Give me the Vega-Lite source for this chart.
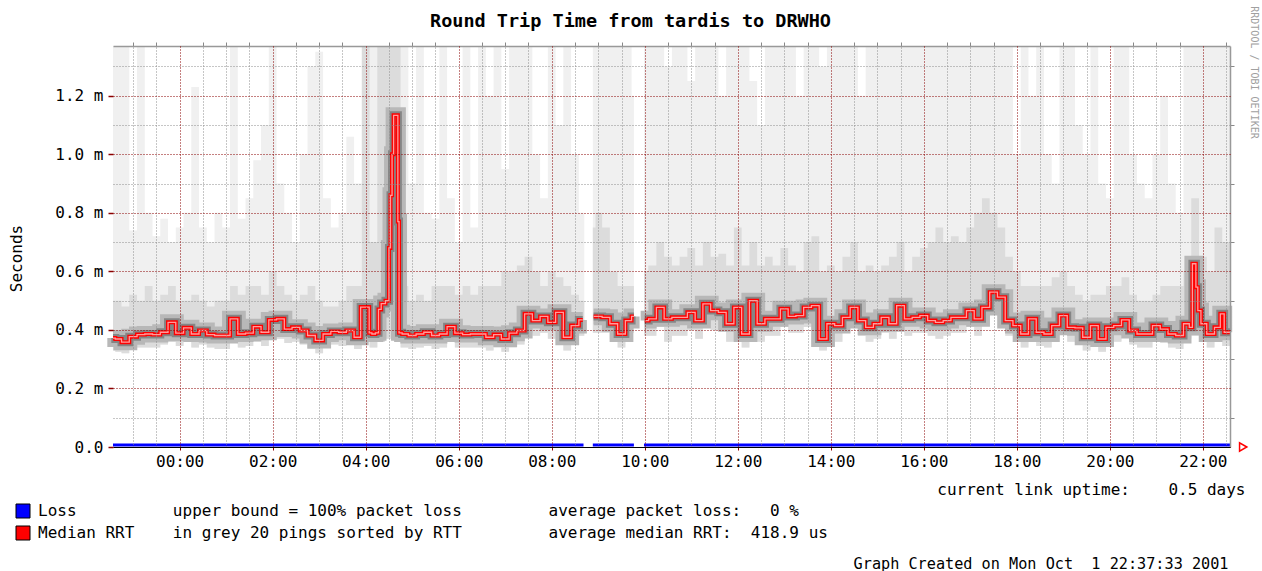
{
  "$schema": "https://vega.github.io/schema/vega-lite/v6.json",
  "autosize": {"type": "none"},
  "padding": {"left": 113, "top": 46, "right": 32, "bottom": 124},
  "width": 1117,
  "height": 401,
  "background": "#ffffff",
  "title": {"text": "Round Trip Time from tardis to DRWHO", "font": "DejaVu Sans Mono", "fontSize": 18.5, "fontWeight": "bold", "anchor": "middle", "frame": "group", "dx": -41, "offset": -25, "color": "#000000"},
  "datasets": {
    "smoke": [
      {"t":"2001-09-30T22:34:00Z","s":"A","lo":0.33,"m":0.50,"p":1.37},
      {"t":"2001-09-30T22:40:00Z","s":"A","lo":0.325,"m":0.50,"p":1.37},
      {"t":"2001-09-30T22:50:00Z","s":"A","lo":0.32,"m":0.48,"p":1.37},
      {"t":"2001-09-30T23:00:00Z","s":"A","lo":0.335,"m":0.52,"p":0.74},
      {"t":"2001-09-30T23:10:00Z","s":"A","lo":0.34,"m":0.50,"p":1.37},
      {"t":"2001-09-30T23:20:00Z","s":"A","lo":0.34,"m":0.55,"p":0.80},
      {"t":"2001-09-30T23:30:00Z","s":"A","lo":0.34,"m":0.50,"p":0.72},
      {"t":"2001-09-30T23:40:00Z","s":"A","lo":0.35,"m":0.52,"p":0.78},
      {"t":"2001-09-30T23:50:00Z","s":"A","lo":0.36,"m":0.55,"p":0.70},
      {"t":"2001-10-01T00:00:00Z","s":"A","lo":0.345,"m":0.50,"p":0.75},
      {"t":"2001-10-01T00:10:00Z","s":"A","lo":0.36,"m":0.50,"p":0.80},
      {"t":"2001-10-01T00:20:00Z","s":"A","lo":0.34,"m":0.52,"p":1.23},
      {"t":"2001-10-01T00:30:00Z","s":"A","lo":0.35,"m":0.50,"p":0.75},
      {"t":"2001-10-01T00:40:00Z","s":"A","lo":0.34,"m":0.48,"p":0.70},
      {"t":"2001-10-01T00:50:00Z","s":"A","lo":0.335,"m":0.50,"p":0.80},
      {"t":"2001-10-01T01:00:00Z","s":"A","lo":0.335,"m":0.50,"p":0.75},
      {"t":"2001-10-01T01:10:00Z","s":"A","lo":0.37,"m":0.55,"p":1.37},
      {"t":"2001-10-01T01:20:00Z","s":"A","lo":0.34,"m":0.52,"p":0.78},
      {"t":"2001-10-01T01:30:00Z","s":"A","lo":0.345,"m":0.55,"p":0.85},
      {"t":"2001-10-01T01:40:00Z","s":"A","lo":0.36,"m":0.55,"p":0.98},
      {"t":"2001-10-01T01:50:00Z","s":"A","lo":0.345,"m":0.52,"p":1.10},
      {"t":"2001-10-01T02:00:00Z","s":"A","lo":0.37,"m":0.60,"p":1.37},
      {"t":"2001-10-01T02:10:00Z","s":"A","lo":0.37,"m":0.55,"p":0.90},
      {"t":"2001-10-01T02:20:00Z","s":"A","lo":0.355,"m":0.52,"p":0.80},
      {"t":"2001-10-01T02:30:00Z","s":"A","lo":0.36,"m":0.50,"p":0.70},
      {"t":"2001-10-01T02:40:00Z","s":"A","lo":0.35,"m":0.52,"p":1.00},
      {"t":"2001-10-01T02:50:00Z","s":"A","lo":0.335,"m":0.55,"p":1.30},
      {"t":"2001-10-01T03:00:00Z","s":"A","lo":0.32,"m":0.50,"p":1.35},
      {"t":"2001-10-01T03:10:00Z","s":"A","lo":0.34,"m":0.48,"p":0.85},
      {"t":"2001-10-01T03:20:00Z","s":"A","lo":0.35,"m":0.48,"p":0.75},
      {"t":"2001-10-01T03:30:00Z","s":"A","lo":0.345,"m":0.50,"p":0.80},
      {"t":"2001-10-01T03:40:00Z","s":"A","lo":0.35,"m":0.55,"p":1.06},
      {"t":"2001-10-01T03:50:00Z","s":"A","lo":0.335,"m":0.55,"p":0.90},
      {"t":"2001-10-01T04:00:00Z","s":"A","lo":0.36,"m":1.37,"p":1.37},
      {"t":"2001-10-01T04:10:00Z","s":"A","lo":0.34,"m":0.70,"p":1.37},
      {"t":"2001-10-01T04:20:00Z","s":"A","lo":0.36,"m":1.37,"p":1.37},
      {"t":"2001-10-01T04:30:00Z","s":"A","lo":0.37,"m":1.37,"p":1.37},
      {"t":"2001-10-01T04:40:00Z","s":"A","lo":0.38,"m":1.37,"p":1.37},
      {"t":"2001-10-01T04:50:00Z","s":"A","lo":0.34,"m":0.55,"p":1.37},
      {"t":"2001-10-01T05:00:00Z","s":"A","lo":0.335,"m":0.50,"p":0.90},
      {"t":"2001-10-01T05:10:00Z","s":"A","lo":0.34,"m":0.52,"p":1.37},
      {"t":"2001-10-01T05:20:00Z","s":"A","lo":0.345,"m":0.50,"p":0.80},
      {"t":"2001-10-01T05:30:00Z","s":"A","lo":0.335,"m":0.55,"p":0.78},
      {"t":"2001-10-01T05:40:00Z","s":"A","lo":0.34,"m":0.55,"p":1.37},
      {"t":"2001-10-01T05:50:00Z","s":"A","lo":0.36,"m":0.55,"p":0.85},
      {"t":"2001-10-01T06:00:00Z","s":"A","lo":0.34,"m":0.52,"p":0.70},
      {"t":"2001-10-01T06:10:00Z","s":"A","lo":0.34,"m":0.55,"p":1.37},
      {"t":"2001-10-01T06:20:00Z","s":"A","lo":0.34,"m":0.52,"p":0.75},
      {"t":"2001-10-01T06:30:00Z","s":"A","lo":0.34,"m":0.55,"p":1.37},
      {"t":"2001-10-01T06:40:00Z","s":"A","lo":0.33,"m":0.55,"p":1.20},
      {"t":"2001-10-01T06:50:00Z","s":"A","lo":0.34,"m":0.55,"p":1.37},
      {"t":"2001-10-01T07:00:00Z","s":"A","lo":0.325,"m":0.60,"p":0.95},
      {"t":"2001-10-01T07:10:00Z","s":"A","lo":0.34,"m":0.60,"p":1.37},
      {"t":"2001-10-01T07:20:00Z","s":"A","lo":0.35,"m":0.62,"p":1.37},
      {"t":"2001-10-01T07:30:00Z","s":"A","lo":0.39,"m":0.65,"p":1.37},
      {"t":"2001-10-01T07:40:00Z","s":"A","lo":0.38,"m":0.60,"p":1.00},
      {"t":"2001-10-01T07:50:00Z","s":"A","lo":0.39,"m":0.55,"p":0.85},
      {"t":"2001-10-01T08:00:00Z","s":"A","lo":0.37,"m":0.60,"p":1.37},
      {"t":"2001-10-01T08:10:00Z","s":"A","lo":0.40,"m":0.58,"p":1.10},
      {"t":"2001-10-01T08:20:00Z","s":"A","lo":0.33,"m":0.55,"p":1.37},
      {"t":"2001-10-01T08:30:00Z","s":"A","lo":0.36,"m":0.52,"p":1.00},
      {"t":"2001-10-01T08:40:00Z","s":"A","lo":0.38,"m":0.50,"p":0.80},
      {"t":"2001-10-01T08:42:00Z","s":"A","lo":0.38,"m":0.50,"p":0.80},
      {"t":"2001-10-01T08:53:00Z","s":"B","lo":0.39,"m":0.75,"p":1.37},
      {"t":"2001-10-01T09:00:00Z","s":"B","lo":0.39,"m":0.80,"p":1.37},
      {"t":"2001-10-01T09:10:00Z","s":"B","lo":0.39,"m":0.75,"p":1.37},
      {"t":"2001-10-01T09:20:00Z","s":"B","lo":0.37,"m":0.60,"p":1.37},
      {"t":"2001-10-01T09:30:00Z","s":"B","lo":0.34,"m":0.55,"p":1.37},
      {"t":"2001-10-01T09:40:00Z","s":"B","lo":0.38,"m":0.55,"p":1.37},
      {"t":"2001-10-01T09:46:00Z","s":"B","lo":0.39,"m":0.55,"p":1.20},
      {"t":"2001-10-01T09:59:00Z","s":"C","lo":0.38,"m":0.60,"p":1.37},
      {"t":"2001-10-01T10:10:00Z","s":"C","lo":0.38,"m":0.62,"p":1.37},
      {"t":"2001-10-01T10:20:00Z","s":"C","lo":0.41,"m":0.70,"p":1.37},
      {"t":"2001-10-01T10:30:00Z","s":"C","lo":0.36,"m":0.65,"p":1.30},
      {"t":"2001-10-01T10:40:00Z","s":"C","lo":0.38,"m":0.62,"p":1.37},
      {"t":"2001-10-01T10:50:00Z","s":"C","lo":0.38,"m":0.65,"p":1.37},
      {"t":"2001-10-01T11:00:00Z","s":"C","lo":0.40,"m":0.68,"p":1.25},
      {"t":"2001-10-01T11:10:00Z","s":"C","lo":0.37,"m":0.62,"p":1.37},
      {"t":"2001-10-01T11:20:00Z","s":"C","lo":0.42,"m":0.70,"p":1.37},
      {"t":"2001-10-01T11:30:00Z","s":"C","lo":0.40,"m":0.65,"p":1.37},
      {"t":"2001-10-01T11:40:00Z","s":"C","lo":0.40,"m":0.66,"p":1.20},
      {"t":"2001-10-01T11:50:00Z","s":"C","lo":0.36,"m":0.62,"p":1.37},
      {"t":"2001-10-01T12:00:00Z","s":"C","lo":0.41,"m":0.75,"p":1.37},
      {"t":"2001-10-01T12:10:00Z","s":"C","lo":0.34,"m":0.62,"p":1.37},
      {"t":"2001-10-01T12:20:00Z","s":"C","lo":0.43,"m":0.70,"p":1.25},
      {"t":"2001-10-01T12:30:00Z","s":"C","lo":0.36,"m":0.62,"p":1.10},
      {"t":"2001-10-01T12:40:00Z","s":"C","lo":0.38,"m":0.65,"p":1.37},
      {"t":"2001-10-01T12:50:00Z","s":"C","lo":0.38,"m":0.62,"p":1.37},
      {"t":"2001-10-01T13:00:00Z","s":"C","lo":0.41,"m":0.68,"p":1.37},
      {"t":"2001-10-01T13:10:00Z","s":"C","lo":0.39,"m":0.62,"p":1.37},
      {"t":"2001-10-01T13:20:00Z","s":"C","lo":0.39,"m":0.60,"p":1.20},
      {"t":"2001-10-01T13:30:00Z","s":"C","lo":0.41,"m":0.70,"p":1.37},
      {"t":"2001-10-01T13:40:00Z","s":"C","lo":0.42,"m":0.72,"p":1.37},
      {"t":"2001-10-01T13:50:00Z","s":"C","lo":0.33,"m":0.60,"p":1.30},
      {"t":"2001-10-01T14:00:00Z","s":"C","lo":0.37,"m":0.62,"p":1.37},
      {"t":"2001-10-01T14:10:00Z","s":"C","lo":0.36,"m":0.60,"p":1.37},
      {"t":"2001-10-01T14:20:00Z","s":"C","lo":0.39,"m":0.65,"p":1.37},
      {"t":"2001-10-01T14:30:00Z","s":"C","lo":0.41,"m":0.70,"p":1.37},
      {"t":"2001-10-01T14:40:00Z","s":"C","lo":0.38,"m":0.60,"p":1.20},
      {"t":"2001-10-01T14:50:00Z","s":"C","lo":0.36,"m":0.62,"p":1.37},
      {"t":"2001-10-01T15:00:00Z","s":"C","lo":0.37,"m":0.60,"p":1.37},
      {"t":"2001-10-01T15:10:00Z","s":"C","lo":0.39,"m":0.62,"p":1.37},
      {"t":"2001-10-01T15:20:00Z","s":"C","lo":0.37,"m":0.65,"p":1.37},
      {"t":"2001-10-01T15:30:00Z","s":"C","lo":0.42,"m":0.70,"p":1.37},
      {"t":"2001-10-01T15:40:00Z","s":"C","lo":0.38,"m":0.60,"p":1.37},
      {"t":"2001-10-01T15:50:00Z","s":"C","lo":0.39,"m":0.65,"p":1.37},
      {"t":"2001-10-01T16:00:00Z","s":"C","lo":0.39,"m":0.68,"p":1.37},
      {"t":"2001-10-01T16:10:00Z","s":"C","lo":0.38,"m":0.70,"p":1.37},
      {"t":"2001-10-01T16:20:00Z","s":"C","lo":0.37,"m":0.75,"p":1.37},
      {"t":"2001-10-01T16:30:00Z","s":"C","lo":0.38,"m":0.70,"p":1.37},
      {"t":"2001-10-01T16:40:00Z","s":"C","lo":0.39,"m":0.72,"p":1.37},
      {"t":"2001-10-01T16:50:00Z","s":"C","lo":0.39,"m":0.70,"p":1.37},
      {"t":"2001-10-01T17:00:00Z","s":"C","lo":0.41,"m":0.75,"p":1.37},
      {"t":"2001-10-01T17:10:00Z","s":"C","lo":0.38,"m":0.80,"p":1.37},
      {"t":"2001-10-01T17:20:00Z","s":"C","lo":0.42,"m":0.85,"p":1.37},
      {"t":"2001-10-01T17:30:00Z","s":"C","lo":0.46,"m":0.80,"p":1.37},
      {"t":"2001-10-01T17:40:00Z","s":"C","lo":0.45,"m":0.75,"p":1.37},
      {"t":"2001-10-01T17:50:00Z","s":"C","lo":0.38,"m":0.65,"p":1.37},
      {"t":"2001-10-01T18:00:00Z","s":"C","lo":0.36,"m":0.60,"p":1.00},
      {"t":"2001-10-01T18:10:00Z","s":"C","lo":0.34,"m":0.55,"p":1.37},
      {"t":"2001-10-01T18:20:00Z","s":"C","lo":0.38,"m":0.55,"p":1.20},
      {"t":"2001-10-01T18:30:00Z","s":"C","lo":0.345,"m":0.55,"p":1.37},
      {"t":"2001-10-01T18:40:00Z","s":"C","lo":0.34,"m":0.55,"p":1.00},
      {"t":"2001-10-01T18:50:00Z","s":"C","lo":0.36,"m":0.58,"p":0.90},
      {"t":"2001-10-01T19:00:00Z","s":"C","lo":0.39,"m":0.60,"p":1.37},
      {"t":"2001-10-01T19:10:00Z","s":"C","lo":0.36,"m":0.55,"p":1.37},
      {"t":"2001-10-01T19:20:00Z","s":"C","lo":0.36,"m":0.52,"p":1.10},
      {"t":"2001-10-01T19:30:00Z","s":"C","lo":0.33,"m":0.50,"p":1.00},
      {"t":"2001-10-01T19:40:00Z","s":"C","lo":0.36,"m":0.52,"p":1.37},
      {"t":"2001-10-01T19:50:00Z","s":"C","lo":0.325,"m":0.52,"p":0.90},
      {"t":"2001-10-01T20:00:00Z","s":"C","lo":0.36,"m":0.55,"p":0.85},
      {"t":"2001-10-01T20:10:00Z","s":"C","lo":0.36,"m":0.55,"p":1.37},
      {"t":"2001-10-01T20:20:00Z","s":"C","lo":0.38,"m":0.58,"p":1.37},
      {"t":"2001-10-01T20:30:00Z","s":"C","lo":0.35,"m":0.52,"p":1.00},
      {"t":"2001-10-01T20:40:00Z","s":"C","lo":0.34,"m":0.50,"p":0.90},
      {"t":"2001-10-01T20:50:00Z","s":"C","lo":0.34,"m":0.50,"p":0.85},
      {"t":"2001-10-01T21:00:00Z","s":"C","lo":0.36,"m":0.52,"p":1.00},
      {"t":"2001-10-01T21:10:00Z","s":"C","lo":0.355,"m":0.55,"p":1.20},
      {"t":"2001-10-01T21:20:00Z","s":"C","lo":0.34,"m":0.55,"p":0.90},
      {"t":"2001-10-01T21:30:00Z","s":"C","lo":0.335,"m":0.55,"p":0.80},
      {"t":"2001-10-01T21:40:00Z","s":"C","lo":0.37,"m":0.60,"p":1.37},
      {"t":"2001-10-01T21:50:00Z","s":"C","lo":0.38,"m":0.85,"p":1.37},
      {"t":"2001-10-01T22:00:00Z","s":"C","lo":0.37,"m":0.65,"p":1.37},
      {"t":"2001-10-01T22:10:00Z","s":"C","lo":0.34,"m":0.60,"p":1.37},
      {"t":"2001-10-01T22:20:00Z","s":"C","lo":0.36,"m":0.75,"p":1.37},
      {"t":"2001-10-01T22:30:00Z","s":"C","lo":0.345,"m":0.70,"p":1.37},
      {"t":"2001-10-01T22:35:00Z","s":"C","lo":0.345,"m":0.70,"p":1.37}
    ],
    "median": [
      {"t":"2001-09-30T22:34:00Z","s":"A","med":0.372},
      {"t":"2001-09-30T22:40:00Z","s":"A","med":0.369},
      {"t":"2001-09-30T22:50:00Z","s":"A","med":0.358},
      {"t":"2001-09-30T23:00:00Z","s":"A","med":0.377},
      {"t":"2001-09-30T23:10:00Z","s":"A","med":0.384},
      {"t":"2001-09-30T23:20:00Z","s":"A","med":0.386},
      {"t":"2001-09-30T23:30:00Z","s":"A","med":0.384},
      {"t":"2001-09-30T23:40:00Z","s":"A","med":0.392},
      {"t":"2001-09-30T23:50:00Z","s":"A","med":0.426},
      {"t":"2001-10-01T00:00:00Z","s":"A","med":0.389},
      {"t":"2001-10-01T00:10:00Z","s":"A","med":0.407},
      {"t":"2001-10-01T00:20:00Z","s":"A","med":0.386},
      {"t":"2001-10-01T00:30:00Z","s":"A","med":0.398},
      {"t":"2001-10-01T00:40:00Z","s":"A","med":0.384},
      {"t":"2001-10-01T00:50:00Z","s":"A","med":0.381},
      {"t":"2001-10-01T01:00:00Z","s":"A","med":0.381},
      {"t":"2001-10-01T01:10:00Z","s":"A","med":0.438},
      {"t":"2001-10-01T01:20:00Z","s":"A","med":0.386},
      {"t":"2001-10-01T01:30:00Z","s":"A","med":0.389},
      {"t":"2001-10-01T01:40:00Z","s":"A","med":0.411},
      {"t":"2001-10-01T01:50:00Z","s":"A","med":0.392},
      {"t":"2001-10-01T02:00:00Z","s":"A","med":0.434},
      {"t":"2001-10-01T02:10:00Z","s":"A","med":0.438},
      {"t":"2001-10-01T02:20:00Z","s":"A","med":0.403},
      {"t":"2001-10-01T02:30:00Z","s":"A","med":0.409},
      {"t":"2001-10-01T02:40:00Z","s":"A","med":0.398},
      {"t":"2001-10-01T02:50:00Z","s":"A","med":0.381},
      {"t":"2001-10-01T03:00:00Z","s":"A","med":0.364},
      {"t":"2001-10-01T03:10:00Z","s":"A","med":0.386},
      {"t":"2001-10-01T03:20:00Z","s":"A","med":0.395},
      {"t":"2001-10-01T03:30:00Z","s":"A","med":0.392},
      {"t":"2001-10-01T03:40:00Z","s":"A","med":0.398},
      {"t":"2001-10-01T03:50:00Z","s":"A","med":0.375},
      {"t":"2001-10-01T03:57:00Z","s":"A","med":0.478},
      {"t":"2001-10-01T04:03:00Z","s":"A","med":0.478},
      {"t":"2001-10-01T04:06:00Z","s":"A","med":0.39},
      {"t":"2001-10-01T04:10:00Z","s":"A","med":0.386},
      {"t":"2001-10-01T04:15:00Z","s":"A","med":0.39},
      {"t":"2001-10-01T04:18:00Z","s":"A","med":0.47},
      {"t":"2001-10-01T04:22:00Z","s":"A","med":0.49},
      {"t":"2001-10-01T04:29:00Z","s":"A","med":0.50},
      {"t":"2001-10-01T04:31:00Z","s":"A","med":0.68},
      {"t":"2001-10-01T04:33:00Z","s":"A","med":0.86},
      {"t":"2001-10-01T04:35:00Z","s":"A","med":1.00},
      {"t":"2001-10-01T04:37:00Z","s":"A","med":1.133},
      {"t":"2001-10-01T04:41:00Z","s":"A","med":1.133},
      {"t":"2001-10-01T04:42:00Z","s":"A","med":0.77},
      {"t":"2001-10-01T04:44:00Z","s":"A","med":0.39},
      {"t":"2001-10-01T04:50:00Z","s":"A","med":0.386},
      {"t":"2001-10-01T05:00:00Z","s":"A","med":0.381},
      {"t":"2001-10-01T05:10:00Z","s":"A","med":0.386},
      {"t":"2001-10-01T05:20:00Z","s":"A","med":0.392},
      {"t":"2001-10-01T05:30:00Z","s":"A","med":0.381},
      {"t":"2001-10-01T05:40:00Z","s":"A","med":0.386},
      {"t":"2001-10-01T05:50:00Z","s":"A","med":0.411},
      {"t":"2001-10-01T06:00:00Z","s":"A","med":0.389},
      {"t":"2001-10-01T06:10:00Z","s":"A","med":0.384},
      {"t":"2001-10-01T06:20:00Z","s":"A","med":0.386},
      {"t":"2001-10-01T06:30:00Z","s":"A","med":0.386},
      {"t":"2001-10-01T06:40:00Z","s":"A","med":0.375},
      {"t":"2001-10-01T06:50:00Z","s":"A","med":0.384},
      {"t":"2001-10-01T07:00:00Z","s":"A","med":0.369},
      {"t":"2001-10-01T07:10:00Z","s":"A","med":0.389},
      {"t":"2001-10-01T07:20:00Z","s":"A","med":0.398},
      {"t":"2001-10-01T07:30:00Z","s":"A","med":0.455},
      {"t":"2001-10-01T07:40:00Z","s":"A","med":0.432},
      {"t":"2001-10-01T07:50:00Z","s":"A","med":0.446},
      {"t":"2001-10-01T08:00:00Z","s":"A","med":0.426},
      {"t":"2001-10-01T08:10:00Z","s":"A","med":0.46},
      {"t":"2001-10-01T08:20:00Z","s":"A","med":0.375},
      {"t":"2001-10-01T08:30:00Z","s":"A","med":0.415},
      {"t":"2001-10-01T08:40:00Z","s":"A","med":0.434},
      {"t":"2001-10-01T08:54:00Z","s":"B","med":0.446},
      {"t":"2001-10-01T09:00:00Z","s":"B","med":0.446},
      {"t":"2001-10-01T09:10:00Z","s":"B","med":0.443},
      {"t":"2001-10-01T09:20:00Z","s":"B","med":0.421},
      {"t":"2001-10-01T09:30:00Z","s":"B","med":0.386},
      {"t":"2001-10-01T09:40:00Z","s":"B","med":0.432},
      {"t":"2001-10-01T09:46:00Z","s":"B","med":0.446},
      {"t":"2001-10-01T10:00:00Z","s":"C","med":0.432},
      {"t":"2001-10-01T10:10:00Z","s":"C","med":0.438},
      {"t":"2001-10-01T10:20:00Z","s":"C","med":0.477},
      {"t":"2001-10-01T10:30:00Z","s":"C","med":0.438},
      {"t":"2001-10-01T10:40:00Z","s":"C","med":0.443},
      {"t":"2001-10-01T10:50:00Z","s":"C","med":0.443},
      {"t":"2001-10-01T11:00:00Z","s":"C","med":0.46},
      {"t":"2001-10-01T11:10:00Z","s":"C","med":0.432},
      {"t":"2001-10-01T11:20:00Z","s":"C","med":0.489},
      {"t":"2001-10-01T11:30:00Z","s":"C","med":0.466},
      {"t":"2001-10-01T11:40:00Z","s":"C","med":0.46},
      {"t":"2001-10-01T11:50:00Z","s":"C","med":0.421},
      {"t":"2001-10-01T12:00:00Z","s":"C","med":0.477},
      {"t":"2001-10-01T12:10:00Z","s":"C","med":0.386},
      {"t":"2001-10-01T12:20:00Z","s":"C","med":0.50},
      {"t":"2001-10-01T12:30:00Z","s":"C","med":0.421},
      {"t":"2001-10-01T12:40:00Z","s":"C","med":0.438},
      {"t":"2001-10-01T12:50:00Z","s":"C","med":0.438},
      {"t":"2001-10-01T13:00:00Z","s":"C","med":0.472},
      {"t":"2001-10-01T13:10:00Z","s":"C","med":0.446},
      {"t":"2001-10-01T13:20:00Z","s":"C","med":0.449},
      {"t":"2001-10-01T13:30:00Z","s":"C","med":0.477},
      {"t":"2001-10-01T13:40:00Z","s":"C","med":0.483},
      {"t":"2001-10-01T13:50:00Z","s":"C","med":0.369},
      {"t":"2001-10-01T14:00:00Z","s":"C","med":0.421},
      {"t":"2001-10-01T14:10:00Z","s":"C","med":0.415},
      {"t":"2001-10-01T14:20:00Z","s":"C","med":0.443},
      {"t":"2001-10-01T14:30:00Z","s":"C","med":0.477},
      {"t":"2001-10-01T14:40:00Z","s":"C","med":0.432},
      {"t":"2001-10-01T14:50:00Z","s":"C","med":0.409},
      {"t":"2001-10-01T15:00:00Z","s":"C","med":0.421},
      {"t":"2001-10-01T15:10:00Z","s":"C","med":0.443},
      {"t":"2001-10-01T15:20:00Z","s":"C","med":0.421},
      {"t":"2001-10-01T15:30:00Z","s":"C","med":0.483},
      {"t":"2001-10-01T15:40:00Z","s":"C","med":0.438},
      {"t":"2001-10-01T15:50:00Z","s":"C","med":0.443},
      {"t":"2001-10-01T16:00:00Z","s":"C","med":0.449},
      {"t":"2001-10-01T16:10:00Z","s":"C","med":0.432},
      {"t":"2001-10-01T16:20:00Z","s":"C","med":0.426},
      {"t":"2001-10-01T16:30:00Z","s":"C","med":0.432},
      {"t":"2001-10-01T16:40:00Z","s":"C","med":0.443},
      {"t":"2001-10-01T16:50:00Z","s":"C","med":0.443},
      {"t":"2001-10-01T17:00:00Z","s":"C","med":0.466},
      {"t":"2001-10-01T17:10:00Z","s":"C","med":0.438},
      {"t":"2001-10-01T17:20:00Z","s":"C","med":0.477},
      {"t":"2001-10-01T17:30:00Z","s":"C","med":0.529},
      {"t":"2001-10-01T17:40:00Z","s":"C","med":0.512},
      {"t":"2001-10-01T17:50:00Z","s":"C","med":0.432},
      {"t":"2001-10-01T18:00:00Z","s":"C","med":0.415},
      {"t":"2001-10-01T18:10:00Z","s":"C","med":0.386},
      {"t":"2001-10-01T18:20:00Z","s":"C","med":0.438},
      {"t":"2001-10-01T18:30:00Z","s":"C","med":0.392},
      {"t":"2001-10-01T18:40:00Z","s":"C","med":0.386},
      {"t":"2001-10-01T18:50:00Z","s":"C","med":0.415},
      {"t":"2001-10-01T19:00:00Z","s":"C","med":0.449},
      {"t":"2001-10-01T19:10:00Z","s":"C","med":0.409},
      {"t":"2001-10-01T19:20:00Z","s":"C","med":0.407},
      {"t":"2001-10-01T19:30:00Z","s":"C","med":0.375},
      {"t":"2001-10-01T19:40:00Z","s":"C","med":0.415},
      {"t":"2001-10-01T19:50:00Z","s":"C","med":0.369},
      {"t":"2001-10-01T20:00:00Z","s":"C","med":0.409},
      {"t":"2001-10-01T20:10:00Z","s":"C","med":0.415},
      {"t":"2001-10-01T20:20:00Z","s":"C","med":0.434},
      {"t":"2001-10-01T20:30:00Z","s":"C","med":0.398},
      {"t":"2001-10-01T20:40:00Z","s":"C","med":0.386},
      {"t":"2001-10-01T20:50:00Z","s":"C","med":0.386},
      {"t":"2001-10-01T21:00:00Z","s":"C","med":0.415},
      {"t":"2001-10-01T21:10:00Z","s":"C","med":0.403},
      {"t":"2001-10-01T21:20:00Z","s":"C","med":0.386},
      {"t":"2001-10-01T21:30:00Z","s":"C","med":0.381},
      {"t":"2001-10-01T21:40:00Z","s":"C","med":0.421},
      {"t":"2001-10-01T21:45:00Z","s":"C","med":0.409},
      {"t":"2001-10-01T21:48:00Z","s":"C","med":0.626},
      {"t":"2001-10-01T21:50:00Z","s":"C","med":0.626},
      {"t":"2001-10-01T21:52:00Z","s":"C","med":0.546},
      {"t":"2001-10-01T21:55:00Z","s":"C","med":0.466},
      {"t":"2001-10-01T22:00:00Z","s":"C","med":0.421},
      {"t":"2001-10-01T22:10:00Z","s":"C","med":0.386},
      {"t":"2001-10-01T22:20:00Z","s":"C","med":0.409},
      {"t":"2001-10-01T22:25:00Z","s":"C","med":0.455},
      {"t":"2001-10-01T22:30:00Z","s":"C","med":0.392},
      {"t":"2001-10-01T22:35:00Z","s":"C","med":0.392}
    ],
    "loss": [
      {"t":"2001-09-30T22:34:00Z","s":"A","loss":0},
      {"t":"2001-10-01T08:41:00Z","s":"A","loss":0},
      {"t":"2001-10-01T08:53:00Z","s":"B","loss":0},
      {"t":"2001-10-01T09:46:00Z","s":"B","loss":0},
      {"t":"2001-10-01T09:59:00Z","s":"C","loss":0},
      {"t":"2001-10-01T22:35:00Z","s":"C","loss":0}
    ],
    "keys": [
      {"key":"Loss"},
      {"key":"Median RRT"}
    ],
    "arrow": [
      {"t":"2001-10-01T22:52:00Z","v":0}
    ]
  },
  "resolve": {"axis": {"x": "independent", "y": "independent"}},
  "layer": [
    {
      "data": {"name": "smoke"},
      "mark": {"type": "area", "interpolate": "step", "color": "#f0f0f0"},
      "encoding": {
        "x": {"field": "t", "type": "temporal",
          "scale": {"type": "utc", "domain": [1001889240000, 1001975700000]},
          "axis": {"orient": "top", "values": [1001890800000, 1001892600000, 1001896200000, 1001898000000, 1001899800000, 1001903400000, 1001905200000, 1001907000000, 1001910600000, 1001912400000, 1001914200000, 1001917800000, 1001919600000, 1001921400000, 1001925000000, 1001926800000, 1001928600000, 1001932200000, 1001934000000, 1001935800000, 1001939400000, 1001941200000, 1001943000000, 1001946600000, 1001948400000, 1001950200000, 1001953800000, 1001955600000, 1001957400000, 1001961000000, 1001962800000, 1001964600000, 1001968200000, 1001970000000, 1001971800000, 1001975400000],
            "labels": false, "grid": true, "gridColor": "#8c8c8c", "gridDash": [1, 2], "gridWidth": 1, "ticks": true, "tickColor": "#888888", "tickSize": 4, "domain": true, "domainColor": "#999999", "domainWidth": 1.5, "zindex": 1,
            "title": "Graph Created on Mon Oct\u00a0\u00a01 22:37:33 2001", "titleFontSize": 15.2, "titleX": 1115, "titleY": 517, "titleAlign": "right", "titleBaseline": "middle"}},
        "y": {"field": "lo", "type": "quantitative",
          "scale": {"domain": [0, 1.37], "nice": false, "zero": false},
          "axis": {"orient": "right", "values": [0.1, 0.3, 0.5, 0.7, 0.9, 1.1, 1.3], "labels": false, "grid": true, "gridColor": "#8c8c8c", "gridDash": [1, 2], "gridWidth": 1, "ticks": true, "tickColor": "#888888", "tickSize": 4, "domain": true, "domainColor": "#999999", "domainWidth": 1.5, "zindex": 1,
            "title": "RRDTOOL / TOBI OETIKER", "titleAngle": 90, "titleX": 23, "titleY": 26, "titleAlign": "center", "titleBaseline": "middle", "titleColor": "#a0a0a0", "titleFontSize": 10}},
        "y2": {"field": "p"},
        "detail": {"field": "s"}
      }
    },
    {
      "data": {"name": "smoke"},
      "mark": {"type": "area", "interpolate": "step", "color": "#dcdcdc"},
      "encoding": {
        "x": {"field": "t", "type": "temporal",
          "scale": {"type": "utc", "domain": [1001889240000, 1001975700000]},
          "axis": {"orient": "bottom", "values": [1001894400000, 1001901600000, 1001908800000, 1001916000000, 1001923200000, 1001930400000, 1001937600000, 1001944800000, 1001952000000, 1001959200000, 1001966400000, 1001973600000],
            "format": "%H:%M", "grid": true, "gridColor": "#8b0000", "gridDash": [1, 2], "gridWidth": 1, "ticks": true, "tickColor": "#8b0000", "tickSize": 3, "domain": true, "domainColor": "#000000", "domainWidth": 1, "labelPadding": 3, "zindex": 2,
            "title": "current link uptime:\u00a0\u00a0\u00a0\u00a00.5 days", "titleX": 1132, "titleY": 42, "titleAlign": "right", "titleBaseline": "middle"}},
        "y": {"field": "lo", "type": "quantitative",
          "scale": {"domain": [0, 1.37], "nice": false, "zero": false},
          "axis": {"orient": "left", "values": [0, 0.2, 0.4, 0.6, 0.8, 1.0, 1.2], "labelExpr": "datum.value == 0 ? '0.0' : format(datum.value, '.1f') + ' m'", "grid": true, "gridColor": "#8b0000", "gridDash": [1, 2], "gridWidth": 1, "ticks": true, "tickColor": "#8b0000", "tickSize": 5, "tickWidth": 1.5, "domain": false, "labelPadding": 5, "zindex": 2,
            "title": "Seconds", "titleAngle": -90, "titleX": -97, "titleY": 212, "titleAlign": "center", "titleBaseline": "middle"}},
        "y2": {"field": "m"},
        "detail": {"field": "s"}
      }
    },
    {
      "data": {"name": "median"},
      "mark": {"type": "line", "interpolate": "step", "color": "#b8b8b8", "strokeWidth": 16, "strokeCap": "butt"},
      "encoding": {
        "x": {"field": "t", "type": "temporal", "axis": null, "scale": {"type": "utc", "domain": [1001889240000, 1001975700000]}},
        "y": {"field": "med", "type": "quantitative", "axis": null, "scale": {"domain": [0, 1.37], "nice": false, "zero": false}},
        "detail": {"field": "s"}
      }
    },
    {
      "data": {"name": "median"},
      "mark": {"type": "line", "interpolate": "step", "color": "#858585", "strokeWidth": 8, "strokeCap": "butt"},
      "encoding": {
        "x": {"field": "t", "type": "temporal", "axis": null, "scale": {"type": "utc", "domain": [1001889240000, 1001975700000]}},
        "y": {"field": "med", "type": "quantitative", "axis": null, "scale": {"domain": [0, 1.37], "nice": false, "zero": false}},
        "detail": {"field": "s"}
      }
    },
    {
      "data": {"name": "loss"},
      "mark": {"type": "line", "color": "#0000ff", "strokeWidth": 3, "yOffset": -2, "strokeCap": "butt"},
      "encoding": {
        "x": {"field": "t", "type": "temporal", "axis": null, "scale": {"type": "utc", "domain": [1001889240000, 1001975700000]}},
        "y": {"field": "loss", "type": "quantitative", "axis": null, "scale": {"domain": [0, 1.37], "nice": false, "zero": false}},
        "detail": {"field": "s"}
      }
    },
    {
      "data": {"name": "median"},
      "mark": {"type": "line", "interpolate": "step", "color": "#ff0000", "strokeWidth": 4},
      "encoding": {
        "x": {"field": "t", "type": "temporal", "axis": null, "scale": {"type": "utc", "domain": [1001889240000, 1001975700000]}},
        "y": {"field": "med", "type": "quantitative", "axis": null, "scale": {"domain": [0, 1.37], "nice": false, "zero": false}},
        "detail": {"field": "s"}
      }
    },
    {
      "data": {"name": "median"},
      "mark": {"type": "line", "interpolate": "step", "color": "#ff9c9c", "strokeWidth": 1.3},
      "encoding": {
        "x": {"field": "t", "type": "temporal", "axis": null, "scale": {"type": "utc", "domain": [1001889240000, 1001975700000]}},
        "y": {"field": "med", "type": "quantitative", "axis": null, "scale": {"domain": [0, 1.37], "nice": false, "zero": false}},
        "detail": {"field": "s"}
      }
    },
    {
      "data": {"name": "arrow"},
      "mark": {"type": "point", "shape": "triangle-right", "filled": false, "color": "#ff0000", "strokeWidth": 1.5, "size": 70, "opacity": 1},
      "encoding": {
        "x": {"field": "t", "type": "temporal", "axis": null, "scale": {"type": "utc", "domain": [1001889240000, 1001975700000]}},
        "y": {"field": "v", "type": "quantitative", "axis": null, "scale": {"domain": [0, 1.37], "nice": false, "zero": false}}
      }
    },
    {
      "data": {"name": "keys"},
      "mark": {"type": "square", "filled": true, "opacity": 0},
      "encoding": {
        "color": {"field": "key", "type": "nominal",
          "scale": {"domain": ["Loss", "Median RRT"], "range": ["#0000ff", "#ff0000"]},
          "legend": {"orient": "none", "legendX": -98, "legendY": 457, "title": null, "symbolType": "square", "symbolSize": 196, "symbolStrokeColor": "#000000", "symbolStrokeWidth": 1, "symbolOpacity": 1, "labelOffset": 7, "rowPadding": 4, "padding": 0, "labelLimit": 2000, "labelFontSize": 16, "labelFont": "DejaVu Sans Mono", "labelColor": "#000000",
            "labelExpr": "datum.label == 'Loss' ? 'Loss\u00a0\u00a0\u00a0\u00a0\u00a0\u00a0\u00a0\u00a0\u00a0\u00a0upper bound = 100% packet loss\u00a0\u00a0\u00a0\u00a0\u00a0\u00a0\u00a0\u00a0\u00a0average packet loss:\u00a0\u00a0\u00a00 %' : 'Median RRT\u00a0\u00a0\u00a0\u00a0in grey 20 pings sorted by RTT\u00a0\u00a0\u00a0\u00a0\u00a0\u00a0\u00a0\u00a0\u00a0average median RRT:\u00a0\u00a0418.9 us'"}
        }
      }
    }
  ],
  "config": {
    "font": "DejaVu Sans Mono",
    "view": {"stroke": null},
    "axis": {"labelFont": "DejaVu Sans Mono", "titleFont": "DejaVu Sans Mono", "labelFontSize": 16, "titleFontSize": 16, "titleFontWeight": "normal", "labelColor": "#000000", "titleColor": "#000000"},
    "legend": {"labelFont": "DejaVu Sans Mono"}
  }
}
